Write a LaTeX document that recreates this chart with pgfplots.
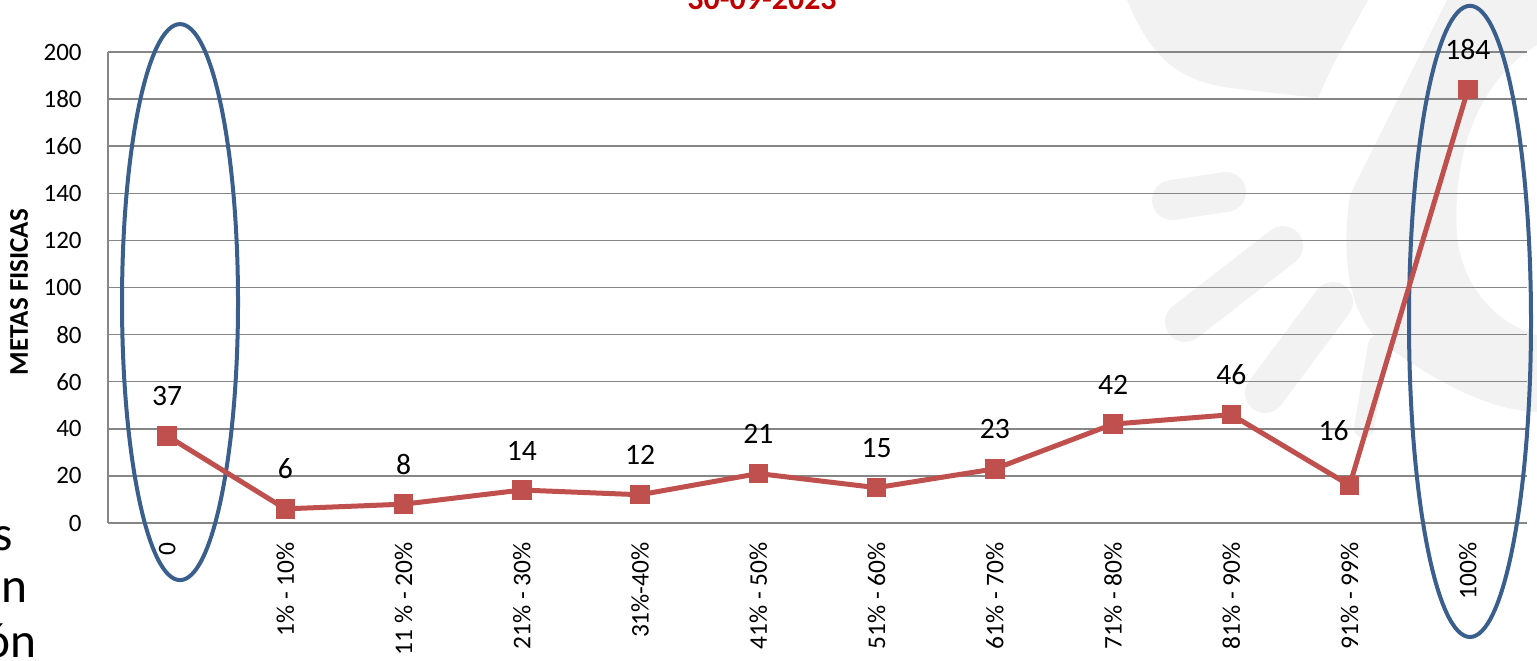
\documentclass[border=0pt]{standalone}
\usepackage{pgfplots}
\pgfplotsset{compat=1.18}
\usepackage{fontspec}
\setmainfont{Carlito}
\definecolor{serred}{HTML}{C0504D}
\definecolor{ellblue}{HTML}{3A5F8D}
\definecolor{gridgray}{HTML}{868686}
\definecolor{titlered}{HTML}{C00000}
\definecolor{wm}{HTML}{F2F2F2}
\tikzset{px/.style={x=0.5pt,y=-0.5pt,shift={(-54pt,261.5pt)}}}
\pgfplotstableread{
x y
0 37
1 6
2 8
3 14
4 12
5 21
6 15
7 23
8 42
9 46
10 16
11 184
}\datatable
\pgfplotstableread{
x y
0 37
1 6
2 8
3 14
4 12
5 21
6 15
7 23
8 42
9 46
11 184
}\labelsA
\pgfplotstableread{
x y
10 16
}\labelsB
\begin{document}
\begin{tikzpicture}
\path[px, use as bounding box] (0,0) rectangle (1537,660);
\clip[px] (0,0) rectangle (1537,660);
\begin{scope}[px]
  % watermark
  \fill[wm] (1127,0) .. controls (1150,55) and (1175,80) .. (1230,88) -- (1318,98) .. controls (1335,60) .. (1368,0) -- cycle;
  \draw[wm, line width=20pt, line cap=round] (1172,200) -- (1226,192);
  \draw[wm, line width=20pt, line cap=round] (1185,322) -- (1283,246);
  \draw[wm, line width=20pt, line cap=round] (1265,393) -- (1333,302);
  \fill[wm] (1447,0) -- (1537,0) -- (1537,45) .. controls (1480,80) and (1452,150) .. (1457,235) .. controls (1462,290) and (1500,325) .. (1537,335) -- (1537,412) .. controls (1480,410) and (1420,370) .. (1385,345) .. controls (1350,320) and (1340,260) .. (1350,195) -- cycle;
  \draw[wm, line width=10pt, line cap=round] (1364,428) -- (1378,345);
  % title (cut off)
  \node[anchor=base, inner sep=0pt, text=titlered, font=\fontsize{16}{19}\selectfont\bfseries] at (762,10) {30-09-2023};
  % cut-off slide text at left
  \node[anchor=base east, inner sep=0pt, font=\fontsize{24.7}{30}\selectfont] at (13,550) {s};
  \node[anchor=base east, inner sep=0pt, font=\fontsize{24.7}{30}\selectfont] at (28,602) {an};
  \node[anchor=base east, inner sep=0pt, font=\fontsize{24.7}{30}\selectfont] at (37,657) {ón};
  % y label
  \node[rotate=90, inner sep=0pt, font=\fontsize{13.5}{16}\selectfont\bfseries] at (19,292) {METAS FISICAS};
\end{scope}
\begin{axis}[
  at={(0,0)}, anchor=south west,
  scale only axis, width=709.5pt, height=235.5pt,
  clip=false,
  xmin=-0.5, xmax=11.5, ymin=0, ymax=200,
  ytick={0,20,...,200},
  xtick={0,...,11},
  xticklabels={0,1\% - 10\%,11 \% - 20\%,21\% - 30\%,31\%-40\%,41\% - 50\%,51\% - 60\%,61\% - 70\%,71\% - 80\%,81\% - 90\%,91\% - 99\%,100\%},
  /pgf/number format/assume math mode=true,
  axis x line*=bottom, axis y line*=left,
  axis line style={gridgray, line width=0.75pt},
  major tick length=0pt,
  ymajorgrids,
  major grid style={gridgray, line width=0.75pt},
  yticklabel style={anchor=east, inner xsep=13pt, inner ysep=0pt, font=\fontsize{12.5}{15}\selectfont},
  xticklabel style={rotate=90, anchor=east, inner xsep=9.5pt, inner ysep=0pt, font=\fontsize{12.7}{15}\selectfont},
]
\draw[ellblue, line width=2pt] (axis cs:0.109,93.8) ellipse [x radius=29pt, y radius=139pt];
\draw[ellblue, line width=2pt] (axis cs:11.018,85.6) ellipse [x radius=30.5pt, y radius=157.8pt];
\addplot[serred, line width=2.5pt, mark=square*, mark size=4.6pt, mark options={solid, line width=0.5pt, fill=serred}] table[x=x, y=y] {\datatable};
\addplot[draw=none, mark=none, nodes near coords, every node near coord/.append style={anchor=base, yshift=15pt, inner sep=0pt, text=black, font=\fontsize{14.8}{18}\selectfont}] table[x=x, y=y] {\labelsA};
\addplot[draw=none, mark=none, nodes near coords, every node near coord/.append style={anchor=base, yshift=22.5pt, xshift=-8pt, inner sep=0pt, text=black, font=\fontsize{14.8}{18}\selectfont}] table[x=x, y=y] {\labelsB};
\end{axis}
\end{tikzpicture}
\end{document}
